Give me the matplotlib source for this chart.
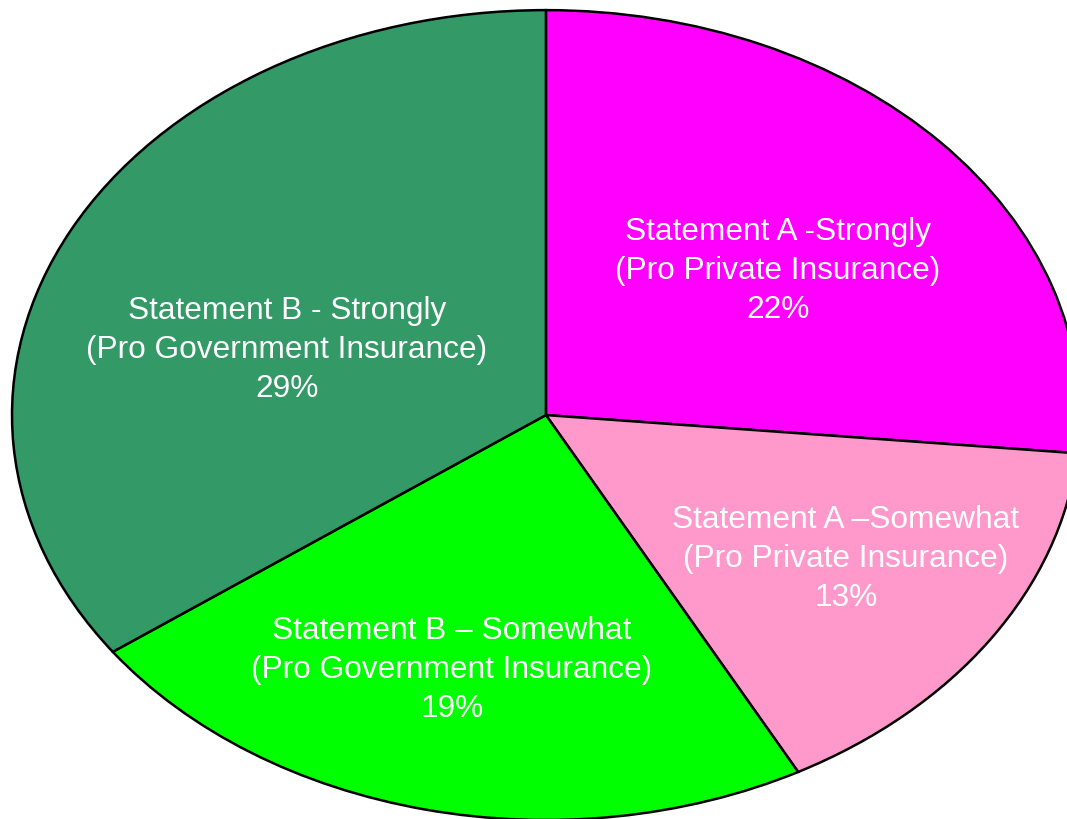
import matplotlib.pyplot as plt

plt.rcParams['font.family'] = ['Liberation Sans', 'DejaVu Sans']

labels = [
    "Statement A -Strongly\n(Pro Private Insurance)",
    "Statement A \u2013Somewhat\n(Pro Private Insurance)",
    "Statement B \u2013 Somewhat\n(Pro Government Insurance)",
    "Statement B - Strongly\n(Pro Government Insurance)",
]
values = [22, 13, 19, 29]
colors = ['#FF00FF', '#FF99CC', '#00FF00', '#339966']
# label centres in data units (pie radius = 1)
label_pos = [(0.434, 0.356), (0.562, -0.355), (-0.176, -0.630), (-0.485, 0.161)]

fig = plt.figure(figsize=(10.67, 8.19), dpi=100)
ax = fig.add_axes([0, 0, 1, 1])

ax.pie(values, colors=colors, startangle=90, counterclock=False,
       wedgeprops=dict(edgecolor='black', linewidth=1.8))

for lab, val, (x, y) in zip(labels, values, label_pos):
    ax.text(x, y, f"{lab}\n{val}%", color='white', fontsize=22.8,
            ha='center', va='center', linespacing=1.38)

# stretch the circle into the ellipse of the original
ax.set_aspect('auto')
ax.set_xlim(-1.0225, 0.976)
ax.set_ylim(-0.9975, 1.025)
ax.axis('off')

fig.savefig('out.png', dpi=100)
